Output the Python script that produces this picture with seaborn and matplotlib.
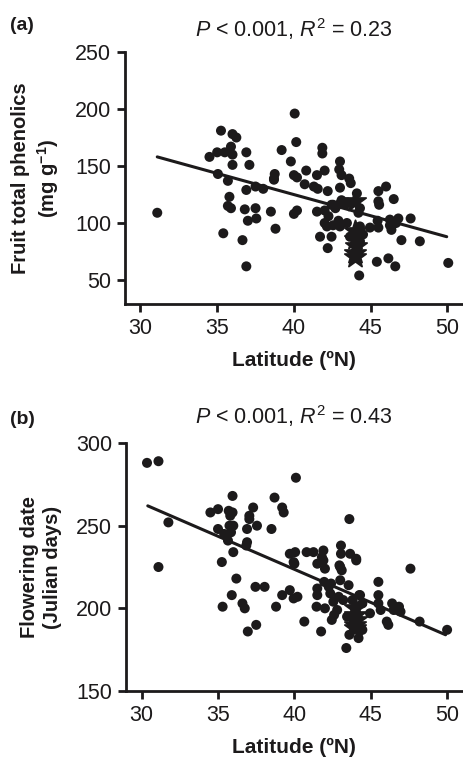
import pandas as pd
import seaborn as sns
import matplotlib.pyplot as plt

# panel (a): latitude vs fruit total phenolics
a_lat = [31.1, 34.5, 35.0, 35.25, 35.5, 35.9, 36.0, 36.0, 36.25, 36.0, 36.9, 37.1,
         35.05, 35.7, 36.9, 37.5, 38.0, 38.7, 35.8, 35.7, 35.9, 36.8, 37.5, 38.5,
         37.0, 37.55, 38.8, 35.4, 36.65, 36.9, 40.05, 40.15, 39.2, 39.8, 38.75, 38.7,
         40.0, 40.2, 41.85, 41.85, 43.0, 40.8, 42.0, 41.5, 42.95, 43.1, 43.6, 43.7,
         40.7, 41.3, 41.55, 42.2, 43.0, 44.1, 45.5, 46.0, 45.5, 45.55, 46.5, 43.1,
         40.0, 40.2, 41.5, 42.0, 42.25, 42.55, 43.0, 43.5, 42.0, 42.15, 42.55, 42.9,
         43.0, 43.45, 41.7, 42.45, 42.2, 43.65, 44.2, 44.3, 44.95, 45.5, 46.25, 46.35,
         46.25, 46.65, 46.8, 45.45, 47.6, 47.0, 48.2, 45.4, 46.15, 46.6, 44.25, 50.05,
         44.2, 44.3, 42.7, 42.45, 43.4, 44.5, 44.3]
a_phen = [109, 158, 162, 181, 162, 167, 160, 178, 175, 151, 162, 151,
          143, 137, 129, 132, 130, 138, 123, 115, 113, 112, 113, 110,
          102, 104, 95, 91, 85, 62, 196, 171, 164, 154, 143, 139,
          142, 140, 166, 161, 154, 146, 146, 142, 147, 142, 139, 135,
          134, 132, 130, 128, 131, 126, 128, 132, 119, 116, 121, 120,
          108, 111, 110, 111, 106, 116, 117, 118, 100, 97, 98, 102,
          97, 100, 88, 88, 78, 88, 90, 97, 96, 96, 98, 94,
          103, 100, 104, 102, 104, 85, 84, 66, 69, 62, 54, 65,
          109, 113, 113, 116, 117, 90, 84]
a_star_lat = [44.0, 44.0, 43.95, 44.05, 44.0, 44.0]
a_star_phen = [119, 93, 86, 80, 74, 70]
a_fit_lat = [31.1, 49.95]
a_fit_phen = [158, 88]

# panel (b): latitude vs flowering date
b_lat = [30.35, 31.1, 31.75, 31.1, 34.5, 35.0, 35.0, 35.95, 35.7, 35.95, 35.8, 35.75,
         36.0, 35.85, 35.4, 35.65, 36.0, 35.25, 37.05, 37.3, 37.05, 36.9, 37.55, 36.9,
         36.85, 38.7, 39.2, 39.3, 38.5, 40.1, 43.6, 39.7, 40.05, 39.95, 40.8, 41.25,
         41.9, 41.8, 43.05, 43.05, 43.65, 44.05, 47.6, 41.5, 42.0, 36.2, 35.9, 35.3,
         36.6, 36.75, 37.45, 38.05, 36.95, 37.5, 38.8, 39.2, 39.7, 39.95, 40.2, 40.65,
         40.0, 41.9, 41.75, 41.5, 41.5, 41.45, 42.0, 41.95, 42.25, 42.35, 42.55, 42.45,
         42.8, 42.9, 43.0, 43.0, 43.1, 43.55, 43.45, 43.6, 43.4, 44.2, 44.45, 44.25,
         44.45, 44.95, 45.5, 45.5, 45.5, 45.65, 46.05, 46.15, 46.4, 46.5, 46.85, 46.95,
         48.2, 50.0, 44.05, 42.95, 44.3, 42.6, 43.2, 42.4, 44.0, 43.8]
b_flower = [288, 289, 252, 225, 258, 260, 248, 268, 259, 258, 256, 250,
            250, 246, 245, 241, 234, 228, 256, 261, 254, 248, 250, 240,
            238, 267, 261, 258, 248, 279, 254, 233, 234, 228, 234, 234,
            235, 231, 238, 233, 233, 230, 224, 227, 224, 218, 208, 201,
            203, 200, 213, 213, 186, 190, 201, 208, 211, 206, 207, 192,
            227, 229, 186, 212, 208, 201, 200, 216, 213, 209, 204, 193,
            199, 207, 217, 225, 223, 214, 195, 184, 176, 182, 187, 208,
            203, 197, 216, 208, 203, 199, 192, 190, 203, 199, 201, 198,
            192, 187, 229, 226, 208, 196, 205, 215, 199, 205]
b_star_lat = [44.0, 43.95, 44.05, 44.0, 44.0]
b_star_flower = [200, 196, 193, 190, 188]
b_fit_lat = [30.4, 49.9]
b_fit_flower = [262, 184]

sns.set_style("ticks")
plt.rcParams['font.family'] = ['Liberation Sans', 'DejaVu Sans']
plt.rcParams['mathtext.fontset'] = 'custom'
plt.rcParams['mathtext.rm'] = 'Liberation Sans'
plt.rcParams['mathtext.it'] = 'Liberation Sans:italic'
plt.rcParams['mathtext.bf'] = 'Liberation Sans:bold'

ink = "#1c1a1b"

fig = plt.figure(figsize=(4.63, 7.59), dpi=100)
ax1 = fig.add_axes([0.27, 0.5995, 0.728, 0.332])
ax2 = fig.add_axes([0.272, 0.0896, 0.726, 0.3267])


def draw_panel(ax, lat, val, star_lat, star_val, fit_lat, fit_val):
    sns.scatterplot(x=lat, y=val, ax=ax, color=ink, s=52, edgecolor="none", zorder=3)
    sns.scatterplot(x=star_lat, y=star_val, ax=ax, color=ink, marker="*", s=260,
                    edgecolor=ink, zorder=4)
    sns.lineplot(x=fit_lat, y=fit_val, ax=ax, color=ink, linewidth=2.2, zorder=2)
    for side in ["top", "right"]:
        ax.spines[side].set_visible(False)
    for side in ["left", "bottom"]:
        ax.spines[side].set_linewidth(2.0)
        ax.spines[side].set_color(ink)
    ax.tick_params(direction="out", length=6, width=2.0, color=ink,
                   labelsize=15.5, labelcolor=ink, pad=4)
    ax.set_xticks([30, 35, 40, 45, 50])
    ax.set_xlabel("Latitude (ºN)", fontsize=15, fontweight="bold", color=ink, labelpad=9)


draw_panel(ax1, a_lat, a_phen, a_star_lat, a_star_phen, a_fit_lat, a_fit_phen)
ax1.set_xlim(29.0, 50.95)
ax1.set_ylim(29, 250)
ax1.set_yticks([50, 100, 150, 200, 250])
ax1.set_ylabel("Fruit total phenolics\n(mg g$^{\\mathbf{-1}}$)", fontsize=14.5,
               fontweight="bold", color=ink, labelpad=10, linespacing=1.25)
ax1.set_title("$\\it{P}$ < 0.001, $\\it{R}^2$ = 0.23", fontsize=15.5, color=ink, pad=11)

draw_panel(ax2, b_lat, b_flower, b_star_lat, b_star_flower, b_fit_lat, b_fit_flower)
ax2.set_xlim(28.97, 50.98)
ax2.set_ylim(150, 300)
ax2.set_yticks([150, 200, 250, 300])
ax2.set_ylabel("Flowering date\n(Julian days)", fontsize=14.5, fontweight="bold",
               color=ink, labelpad=10, linespacing=1.25)
ax2.set_title("$\\it{P}$ < 0.001, $\\it{R}^2$ = 0.43", fontsize=15.5, color=ink, pad=14)

fig.text(10 / 463, 1 - 25 / 759, "(a)", fontsize=14, fontweight="bold", va="center", color=ink)
fig.text(10 / 463, 1 - 420 / 759, "(b)", fontsize=14, fontweight="bold", va="center", color=ink)

fig.savefig("out.png", dpi=100)
